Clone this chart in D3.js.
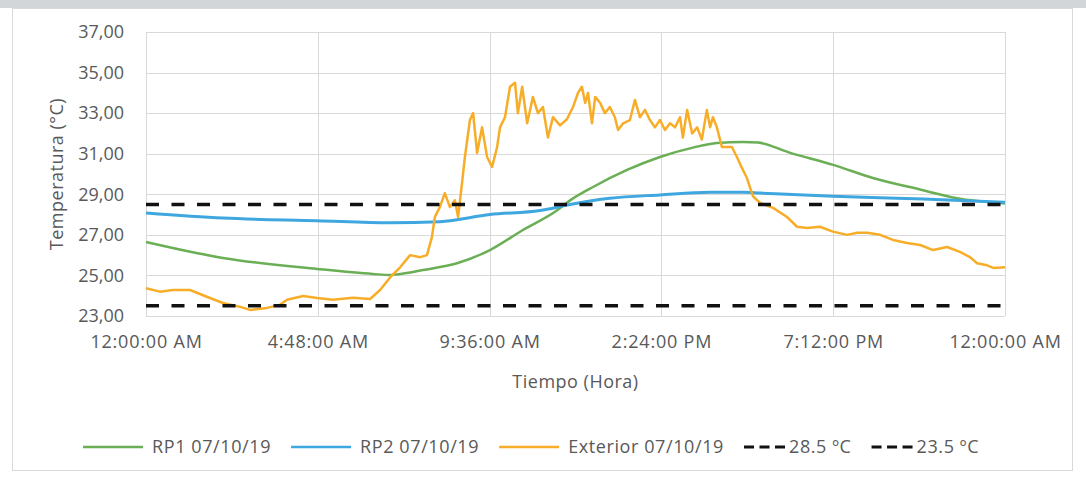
<!DOCTYPE html>
<html>
<head>
<meta charset="utf-8" />
<style>
	body { margin: 0; background: #fff; }
	svg { display: block; font-family: 'Open Sans', sans-serif; }
	.grid line { stroke: #d9d9d9; stroke-width: 1px; shape-rendering: crispEdges; }
	.grid path { stroke-width: 0; }
	.tickAxis path, .tickAxis line { stroke-width: 0; }
	.tickAxis text { fill: #595959; font-family: 'Open Sans', sans-serif; font-size: 18px; }
	.xTicks text { letter-spacing: 0.8px; }
	.axTitle { fill: #595959; font-size: 18px; letter-spacing: 0.5px; }
	.legend text { fill: #595959; font-size: 18px; letter-spacing: 0.6px; }
</style>
</head>
<body>
<div class="chart"></div>

<script src="https://d3js.org/d3.v7.min.js"></script>
<script>

//// data (hour of day, temperature) ////
var rp1 = [[0,26.65],[2.15,25.86],[4.78,25.32],[6.34,25.07],[6.82,25.02],[7.0,25.05],[7.74,25.27],
	[8.69,25.6],[9.61,26.25],[10.53,27.24],[11.48,28.2],[11.85,28.7],[12.49,29.36],[13.44,30.2],
	[14.36,30.84],[15.28,31.3],[15.95,31.53],[16.68,31.58],[17.1,31.55],[18.0,31.04],[19.2,30.45],
	[20.31,29.8],[21.71,29.2],[22.66,28.8],[24,28.55]];

var rp2 = [[0,28.08],[2.15,27.83],[4.78,27.7],[6.82,27.6],[8.21,27.65],[9.61,28.0],[11.01,28.2],
	[11.85,28.5],[12.96,28.8],[14.36,28.97],[15.76,29.1],[16.68,29.1],[17.16,29.06],[19.2,28.9],
	[21.71,28.77],[24,28.6]];

var exterior = [[0,24.37],[0.39,24.2],[0.75,24.28],[1.23,24.28],[1.70,23.95],[2.15,23.64],[2.63,23.45],
	[2.91,23.3],[3.38,23.4],[3.74,23.55],[3.94,23.8],[4.39,23.99],[4.78,23.89],[5.22,23.8],[5.78,23.9],
	[6.26,23.84],[6.54,24.28],[6.82,24.9],[7.10,25.4],[7.38,26.0],[7.66,25.9],[7.85,26.0],[7.99,26.9],
	[8.07,27.88],[8.21,28.37],[8.35,29.06],[8.49,28.37],[8.63,28.7],[8.72,27.88],[8.83,29.56],[8.91,30.84],
	[9.05,32.66],[9.14,33.0],[9.25,31.04],[9.39,32.3],[9.53,30.84],[9.67,30.35],[9.81,31.33],[9.89,32.3],
	[10.03,32.8],[10.17,34.3],[10.31,34.5],[10.39,33.0],[10.51,34.3],[10.65,32.5],[10.81,33.8],[10.95,33.0],
	[11.09,33.3],[11.23,31.8],[11.37,32.8],[11.57,32.4],[11.76,32.7],[11.93,33.3],[12.07,34.0],[12.18,34.3],
	[12.27,33.5],[12.35,34.0],[12.46,32.5],[12.55,33.8],[12.69,33.5],[12.82,33.0],[12.96,33.3],[13.10,32.8],
	[13.19,32.17],[13.33,32.5],[13.52,32.66],[13.66,33.65],[13.80,32.8],[13.94,33.16],[14.08,32.66],
	[14.22,32.3],[14.36,32.66],[14.50,32.17],[14.64,32.5],[14.78,32.3],[14.92,32.8],[15.00,31.8],
	[15.12,33.16],[15.26,32.0],[15.40,32.3],[15.53,31.7],[15.67,33.16],[15.76,32.3],[15.84,32.8],
	[15.95,32.3],[16.09,31.33],[16.23,31.33],[16.37,31.33],[16.51,30.84],[16.65,30.3],[16.79,29.8],
	[16.96,28.9],[17.16,28.57],[17.52,28.33],[17.91,27.88],[18.19,27.4],[18.47,27.34],[18.83,27.4],
	[19.19,27.16],[19.59,27.0],[19.87,27.1],[20.15,27.1],[20.51,27.0],[20.87,26.75],[21.26,26.6],
	[21.63,26.5],[21.99,26.25],[22.38,26.4],[22.74,26.16],[23.02,25.9],[23.22,25.6],[23.50,25.5],
	[23.67,25.37],[24,25.4]];

var limits = [28.5, 23.5];
var dayRange = [0, 24];

var xTickHours = [0, 4.8, 9.6, 14.4, 19.2, 24];
var xTickLabels = ['12:00:00 AM', '4:48:00 AM', '9:36:00 AM', '2:24:00 PM', '7:12:00 PM', '12:00:00 AM'];
var yTicks = [23, 25, 27, 29, 31, 33, 35, 37];

var legendNames = ['RP1 07/10/19', 'RP2 07/10/19', 'Exterior 07/10/19', '28.5 ºC', '23.5 ºC'];

//// chart ////
var W = 1086, H = 477;
var plot = {left: 146, right: 1005, top: 32, bottom: 316};

var colors = ['#6aaf55', '#3fa7e0', '#f8ad29', '#111', '#111'];

var es = d3.formatLocale({decimal: ',', thousands: '.', grouping: [3], currency: ['', '€']});
var fmtY = es.format('.2f');

var svg = d3.select('.chart').append('svg')
	.attr('width', W)
	.attr('height', H);

// title strip (cut off) and chart frame
svg.append('rect')
	.attr('x', 0).attr('y', 0).attr('width', W).attr('height', 8)
	.attr('fill', '#d3d6d9');
svg.append('rect')
	.attr('x', 12.5).attr('y', 8.5).attr('width', 1060).attr('height', 462)
	.attr('fill', '#fff').attr('stroke', '#d9d9d9');

var x = d3.scaleLinear().domain(dayRange).range([plot.left, plot.right]);
var y = d3.scaleLinear().domain([23, 37]).range([plot.bottom, plot.top]);

// gridlines
svg.append('g')
	.attr('class', 'grid')
	.attr('transform', 'translate(' + plot.left + ',0)')
	.call(d3.axisLeft(y).tickValues(yTicks).tickSize(-(plot.right - plot.left)).tickFormat(''));

svg.append('g')
	.attr('class', 'grid')
	.attr('transform', 'translate(0,' + plot.bottom + ')')
	.call(d3.axisBottom(x).tickValues(xTickHours).tickSize(-(plot.bottom - plot.top)).tickFormat(''));

// tick labels
svg.append('g')
	.attr('class', 'tickAxis')
	.attr('transform', 'translate(' + plot.left + ',0)')
	.call(d3.axisLeft(y).tickValues(yTicks).tickSize(0).tickPadding(22).tickFormat(fmtY));

svg.append('g')
	.attr('class', 'tickAxis xTicks')
	.attr('transform', 'translate(0,' + plot.bottom + ')')
	.call(d3.axisBottom(x).tickValues(xTickHours).tickSize(0).tickPadding(19)
		.tickFormat(function (d, i) { return xTickLabels[i]; }));

// axis titles
svg.append('text')
	.attr('class', 'axTitle')
	.attr('x', (plot.left + plot.right) / 2)
	.attr('y', 388)
	.attr('text-anchor', 'middle')
	.text('Tiempo (Hora)');

svg.append('text')
	.attr('class', 'axTitle')
	.attr('transform', 'translate(63,' + (plot.top + plot.bottom) / 2 + ') rotate(-90)')
	.attr('text-anchor', 'middle')
	.text('Temperatura (°C)');

// series
var line = d3.line()
	.x(function (d) { return x(d[0]); })
	.y(function (d) { return y(d[1]); });

var smooth = d3.line()
	.curve(d3.curveMonotoneX)
	.x(function (d) { return x(d[0]); })
	.y(function (d) { return y(d[1]); });

svg.append('path').datum(rp1)
	.attr('d', smooth).attr('fill', 'none')
	.attr('stroke', colors[0]).attr('stroke-width', 2.5);

svg.append('path').datum(rp2)
	.attr('d', smooth).attr('fill', 'none')
	.attr('stroke', colors[1]).attr('stroke-width', 3);

svg.append('path').datum(exterior)
	.attr('d', line).attr('fill', 'none')
	.attr('stroke', colors[2]).attr('stroke-width', 2.5)
	.attr('stroke-linejoin', 'round');

limits.forEach(function (v) {
	svg.append('path')
		.datum(dayRange.map(function (h) { return [h, v]; }))
		.attr('d', line).attr('fill', 'none')
		.attr('stroke', '#111').attr('stroke-width', 3.5)
		.attr('stroke-dasharray', '13,12.5');
});

// legend
var legend = svg.append('g').attr('class', 'legend');
var cx = 83, ly = 447;
legendNames.forEach(function (name, i) {
	var dashed = i >= 3;
	var keyLen = dashed ? 41 : 60;
	var k = legend.append('line')
		.attr('x1', cx).attr('x2', cx + keyLen)
		.attr('y1', ly).attr('y2', ly)
		.attr('stroke', colors[i])
		.attr('stroke-width', dashed ? 3 : 2.5);
	if (dashed) k.attr('stroke-dasharray', '10,5.5');
	var t = legend.append('text')
		.attr('x', cx + keyLen + (dashed ? 4 : 9))
		.attr('y', ly)
		.attr('dy', '0.35em')
		.text(name);
	cx = cx + keyLen + (dashed ? 4 : 9) + t.node().getComputedTextLength() + 20;
});

</script>
</body>
</html>
